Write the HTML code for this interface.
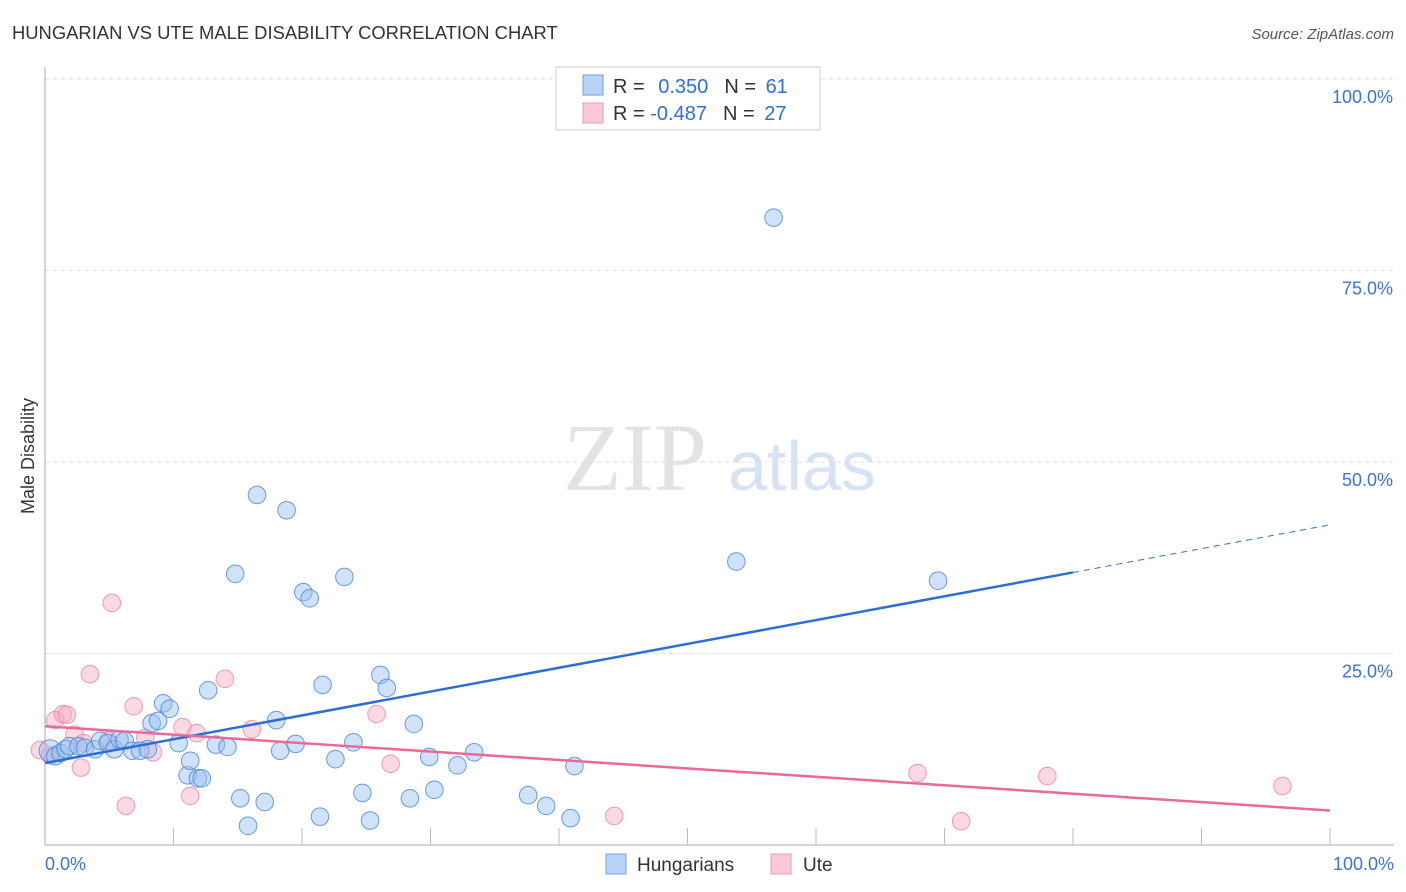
<!DOCTYPE html>
<html><head><meta charset="utf-8">
<style>
body{margin:0;background:#fff;font-family:"Liberation Sans",sans-serif;}
svg{display:block}
</style></head>
<body>
<svg id="chart" width="1406" height="892">
<text x="12" y="39" font-size="18.4" fill="#333">HUNGARIAN VS UTE MALE DISABILITY CORRELATION CHART</text>
<text x="1394" y="39" font-size="15" fill="#555" font-style="italic" text-anchor="end">Source: ZipAtlas.com</text>
<text transform="translate(34,456) rotate(-90)" font-size="18" fill="#333" text-anchor="middle">Male Disability</text>
<g>
<text x="635" y="490" font-size="96" fill="#e3e3e3" font-family="Liberation Serif,serif" text-anchor="middle">ZIP</text>
<text x="802" y="490" font-size="70" fill="#d5e3f5" text-anchor="middle">atlas</text>
</g>
<g id="grid"></g>
<g id="axes"></g>
<g id="pts"></g>
<g id="trends"></g>
<g>
<rect x="556" y="67" width="264" height="63" fill="#fff" stroke="#ccc"/>
<rect x="583" y="75" width="20" height="20" fill="#b9d3f6" stroke="#6f9fe0"/>
<rect x="583" y="103" width="20" height="20" fill="#f9c9d8" stroke="#ee9ab5"/>
<text x="613" y="93" font-size="20" fill="#333">R = <tspan fill="#2f6fd6" dx="8">0.350</tspan><tspan dx="16" fill="#333">N = </tspan><tspan fill="#2f6fd6" dx="4">61</tspan></text>
<text x="613" y="120" font-size="20" fill="#333">R = <tspan fill="#2f6fd6" dx="0">-0.487</tspan><tspan dx="16" fill="#333">N = </tspan><tspan fill="#2f6fd6" dx="4">27</tspan></text>
</g>
<g>
<rect x="606" y="854" width="20" height="20" fill="#b9d3f6" stroke="#6f9fe0"/>
<text x="637" y="871" font-size="19" fill="#333">Hungarians</text>
<rect x="771" y="854" width="20" height="20" fill="#f9c9d8" stroke="#ee9ab5"/>
<text x="803" y="871" font-size="19" fill="#333">Ute</text>
</g>
</svg>
<script>
const yTicks=[25,50,75,100];
const yTickLabels=["25.0%","50.0%","75.0%","100.0%"];
const xTickLabels=["0.0%","100.0%"];
const blueX=[0.4,0.8,1.2,1.6,1.9,2.6,3.1,3.9,4.3,4.9,5.4,5.8,6.2,6.8,7.4,8.0,8.3,8.8,9.2,9.7,10.4,11.1,11.3,11.9,12.2,12.7,13.3,14.2,14.8,15.2,15.8,16.5,17.1,18.0,18.3,18.8,19.5,20.1,20.6,21.4,21.6,22.6,23.3,24.0,24.7,25.3,26.1,26.6,28.4,28.7,29.9,30.3,32.1,33.4,37.6,39.0,40.9,41.2,53.8,56.7,69.5];
const blueY=[12.3,11.6,12.0,12.5,12.9,12.9,12.7,12.5,13.6,13.3,12.5,13.8,13.6,12.3,12.3,12.5,15.9,16.2,18.5,17.8,13.3,9.1,11.0,8.7,8.7,20.2,13.1,12.8,35.4,6.1,2.5,45.7,5.6,16.3,12.3,43.7,13.2,33.0,32.2,3.7,20.9,11.2,35.0,13.4,6.8,3.2,22.2,20.5,6.1,15.8,11.5,7.2,10.4,12.1,6.5,5.1,3.5,10.3,37.0,81.9,34.5];
const pinkX=[0.4,0.8,1.4,1.7,2.3,2.8,3.5,4.9,5.2,6.3,6.9,7.8,8.4,10.7,11.3,11.8,14.0,16.1,25.8,26.9,44.3,67.9,71.3,78.0,96.3,-0.4,3.0];
const pinkY=[11.7,16.3,17.1,17.0,14.4,10.1,22.3,13.6,31.6,5.1,18.1,14.0,12.1,15.4,6.4,14.6,21.7,15.1,17.1,10.6,3.8,9.4,3.1,9.0,7.7,12.4,13.3];
const S='http://www.w3.org/2000/svg';
const X=v=>45+v*12.85, Y=v=>845-v*7.66;
function mk(t,a,p){const e=document.createElementNS(S,t);for(const k in a)e.setAttribute(k,a[k]);p.appendChild(e);return e;}
const grid=document.getElementById('grid'),axes=document.getElementById('axes');
yTicks.forEach((v,i)=>{
 const l=mk('line',{x1:45,x2:1394,y1:Y(v),y2:Y(v),stroke:'#ddd','stroke-dasharray':'4,4'},grid);
 
 
 const t=mk('text',{x:1393,y:Y(v)+24,'font-size':18,fill:'#3b74d6','text-anchor':'end'},axes);
 t.textContent=yTickLabels[i];
 
 
});
const al=mk('line',{x1:45,x2:45,y1:67,y2:845,stroke:'#aaa'},axes);


const bl=mk('line',{x1:45,x2:1394,y1:845,y2:845,stroke:'#aaa'},axes);


for(let i=1;i<=10;i++){const t=mk('line',{x1:X(i*10),x2:X(i*10),y1:828,y2:845,stroke:'#bbb'},axes);
 
 }
[[0,'start',45],[100,'end',1394]].forEach((d,i)=>{const t=mk('text',{x:d[2],y:870,'font-size':18,fill:'#3b74d6','text-anchor':d[1]},axes);t.textContent=xTickLabels[i];
 
 });
const pts=document.getElementById('pts');
pinkX.forEach((x,i)=>{const c=mk('circle',{cx:X(x),cy:Y(pinkY[i]),r:8.8,fill:'rgba(246,170,195,0.45)',stroke:'rgba(236,130,165,0.8)'},pts);
 
 });
blueX.forEach((x,i)=>{const c=mk('circle',{cx:X(x),cy:Y(blueY[i]),r:i==0?11:8.8,fill:'rgba(150,190,240,0.45)',stroke:'rgba(70,130,220,0.8)'},pts);
 
 });
const tr=document.getElementById('trends');
const b0=10.7,b1=0.311,p0=15.5,p1=-0.11;
const t1=mk('line',{x1:X(0),y1:Y(b0),x2:X(80),y2:Y(b0+b1*80),stroke:'#2a6fd8','stroke-width':2.5},tr);


const t2=mk('line',{x1:X(80),y1:Y(b0+b1*80),x2:X(100),y2:Y(b0+b1*100),stroke:'#2a6fd8','stroke-width':1,'stroke-dasharray':'6,5'},tr);


const t3=mk('line',{x1:X(0),y1:Y(p0),x2:X(100),y2:Y(p0+p1*100),stroke:'#e8699a','stroke-width':2.5},tr);


</script>
</body></html>
